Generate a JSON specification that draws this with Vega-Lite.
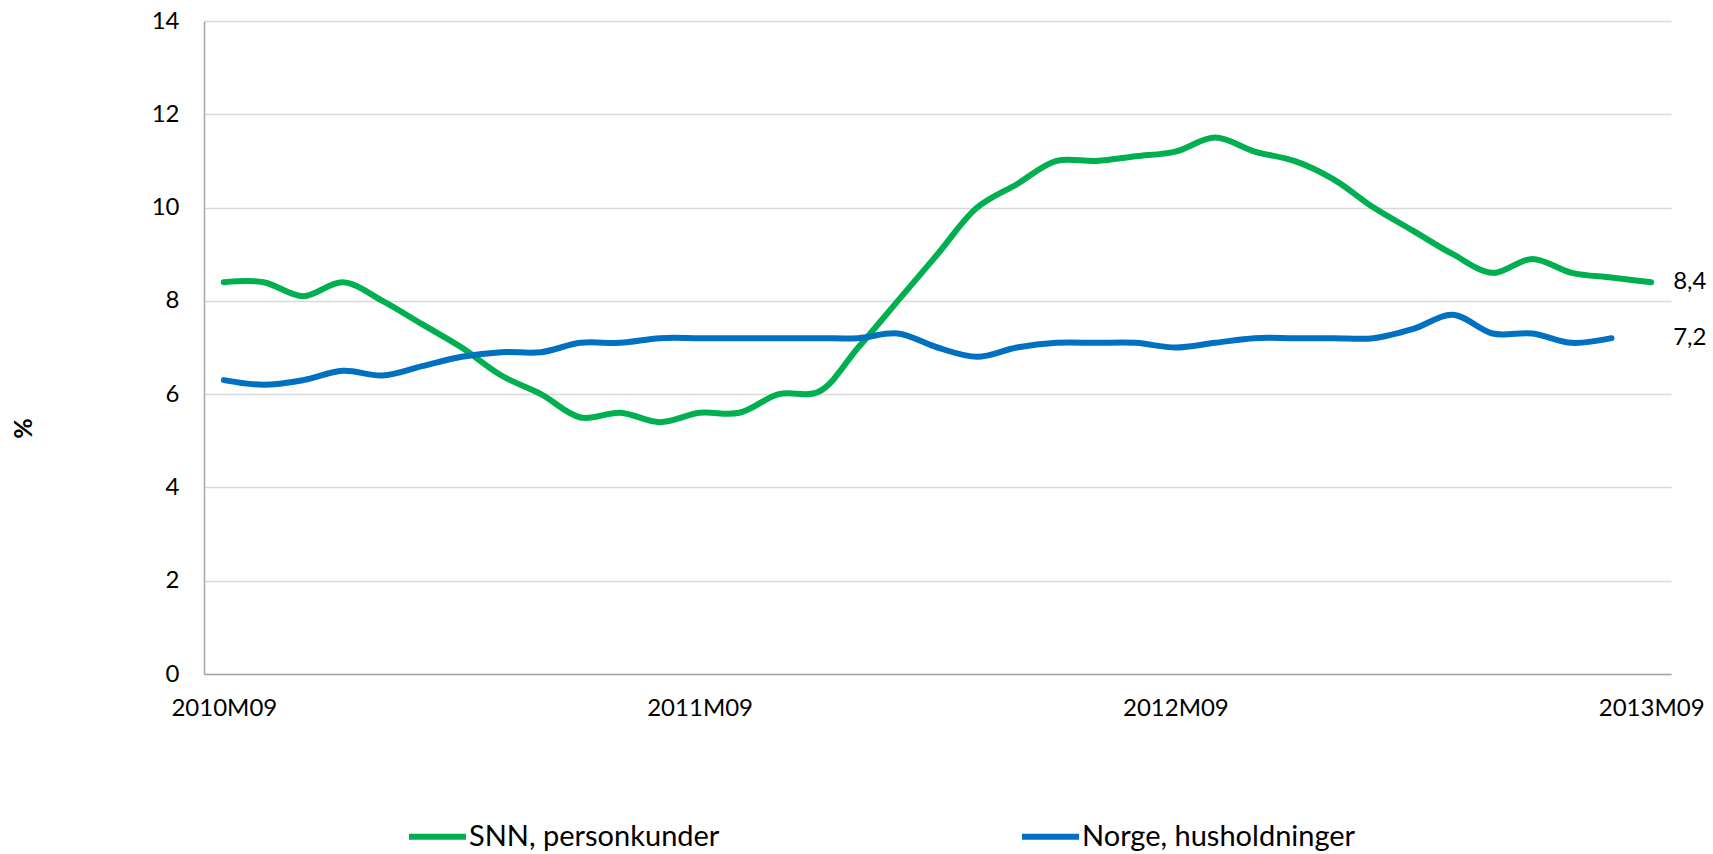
{
  "$schema": "https://vega.github.io/schema/vega-lite/v6.json",
  "autosize": "none",
  "width": 1467,
  "height": 653,
  "padding": {"left": 204, "top": 21, "right": 42, "bottom": 180},
  "background": "white",
  "config": {
    "font": "Lato",
    "view": {"stroke": null},
    "axis": {"labelFont": "Lato", "labelFontSize": 24, "labelColor": "#000000", "titleFont": "Lato"},
    "legend": {"labelFont": "Lato", "labelFontSize": 29, "labelColor": "#000000"}
  },
  "datasets": {
    "rows": [
      {"month": "2010M09", "series": "SNN, personkunder", "value": 8.4},
      {"month": "2010M10", "series": "SNN, personkunder", "value": 8.4},
      {"month": "2010M11", "series": "SNN, personkunder", "value": 8.1},
      {"month": "2010M12", "series": "SNN, personkunder", "value": 8.4},
      {"month": "2011M01", "series": "SNN, personkunder", "value": 8.0},
      {"month": "2011M02", "series": "SNN, personkunder", "value": 7.5},
      {"month": "2011M03", "series": "SNN, personkunder", "value": 7.0},
      {"month": "2011M04", "series": "SNN, personkunder", "value": 6.4},
      {"month": "2011M05", "series": "SNN, personkunder", "value": 6.0},
      {"month": "2011M06", "series": "SNN, personkunder", "value": 5.5},
      {"month": "2011M07", "series": "SNN, personkunder", "value": 5.6},
      {"month": "2011M08", "series": "SNN, personkunder", "value": 5.4},
      {"month": "2011M09", "series": "SNN, personkunder", "value": 5.6},
      {"month": "2011M10", "series": "SNN, personkunder", "value": 5.6},
      {"month": "2011M11", "series": "SNN, personkunder", "value": 6.0},
      {"month": "2011M12", "series": "SNN, personkunder", "value": 6.05},
      {"month": "2012M01", "series": "SNN, personkunder", "value": 7.0},
      {"month": "2012M02", "series": "SNN, personkunder", "value": 8.0},
      {"month": "2012M03", "series": "SNN, personkunder", "value": 9.0},
      {"month": "2012M04", "series": "SNN, personkunder", "value": 10.0},
      {"month": "2012M05", "series": "SNN, personkunder", "value": 10.5},
      {"month": "2012M06", "series": "SNN, personkunder", "value": 11.0},
      {"month": "2012M07", "series": "SNN, personkunder", "value": 11.0},
      {"month": "2012M08", "series": "SNN, personkunder", "value": 11.1},
      {"month": "2012M09", "series": "SNN, personkunder", "value": 11.2},
      {"month": "2012M10", "series": "SNN, personkunder", "value": 11.5},
      {"month": "2012M11", "series": "SNN, personkunder", "value": 11.2},
      {"month": "2012M12", "series": "SNN, personkunder", "value": 11.0},
      {"month": "2013M01", "series": "SNN, personkunder", "value": 10.6},
      {"month": "2013M02", "series": "SNN, personkunder", "value": 10.0},
      {"month": "2013M03", "series": "SNN, personkunder", "value": 9.5},
      {"month": "2013M04", "series": "SNN, personkunder", "value": 9.0},
      {"month": "2013M05", "series": "SNN, personkunder", "value": 8.6},
      {"month": "2013M06", "series": "SNN, personkunder", "value": 8.9},
      {"month": "2013M07", "series": "SNN, personkunder", "value": 8.6},
      {"month": "2013M08", "series": "SNN, personkunder", "value": 8.5},
      {"month": "2013M09", "series": "SNN, personkunder", "value": 8.4},
      {"month": "2010M09", "series": "Norge, husholdninger", "value": 6.3},
      {"month": "2010M10", "series": "Norge, husholdninger", "value": 6.2},
      {"month": "2010M11", "series": "Norge, husholdninger", "value": 6.3},
      {"month": "2010M12", "series": "Norge, husholdninger", "value": 6.5},
      {"month": "2011M01", "series": "Norge, husholdninger", "value": 6.4},
      {"month": "2011M02", "series": "Norge, husholdninger", "value": 6.6},
      {"month": "2011M03", "series": "Norge, husholdninger", "value": 6.8},
      {"month": "2011M04", "series": "Norge, husholdninger", "value": 6.9},
      {"month": "2011M05", "series": "Norge, husholdninger", "value": 6.9},
      {"month": "2011M06", "series": "Norge, husholdninger", "value": 7.1},
      {"month": "2011M07", "series": "Norge, husholdninger", "value": 7.1},
      {"month": "2011M08", "series": "Norge, husholdninger", "value": 7.2},
      {"month": "2011M09", "series": "Norge, husholdninger", "value": 7.2},
      {"month": "2011M10", "series": "Norge, husholdninger", "value": 7.2},
      {"month": "2011M11", "series": "Norge, husholdninger", "value": 7.2},
      {"month": "2011M12", "series": "Norge, husholdninger", "value": 7.2},
      {"month": "2012M01", "series": "Norge, husholdninger", "value": 7.2},
      {"month": "2012M02", "series": "Norge, husholdninger", "value": 7.3},
      {"month": "2012M03", "series": "Norge, husholdninger", "value": 7.0},
      {"month": "2012M04", "series": "Norge, husholdninger", "value": 6.8},
      {"month": "2012M05", "series": "Norge, husholdninger", "value": 7.0},
      {"month": "2012M06", "series": "Norge, husholdninger", "value": 7.1},
      {"month": "2012M07", "series": "Norge, husholdninger", "value": 7.1},
      {"month": "2012M08", "series": "Norge, husholdninger", "value": 7.1},
      {"month": "2012M09", "series": "Norge, husholdninger", "value": 7.0},
      {"month": "2012M10", "series": "Norge, husholdninger", "value": 7.1},
      {"month": "2012M11", "series": "Norge, husholdninger", "value": 7.2},
      {"month": "2012M12", "series": "Norge, husholdninger", "value": 7.2},
      {"month": "2013M01", "series": "Norge, husholdninger", "value": 7.2},
      {"month": "2013M02", "series": "Norge, husholdninger", "value": 7.2},
      {"month": "2013M03", "series": "Norge, husholdninger", "value": 7.4},
      {"month": "2013M04", "series": "Norge, husholdninger", "value": 7.7},
      {"month": "2013M05", "series": "Norge, husholdninger", "value": 7.3},
      {"month": "2013M06", "series": "Norge, husholdninger", "value": 7.3},
      {"month": "2013M07", "series": "Norge, husholdninger", "value": 7.1},
      {"month": "2013M08", "series": "Norge, husholdninger", "value": 7.2}
    ],
    "labels": [
      {"month": "2013M09", "value": 8.4, "label": "8,4"},
      {"month": "2013M09", "value": 7.2, "label": "7,2"}
    ]
  },
  "encoding": {
    "x": {
      "field": "month", "type": "ordinal", "sort": null,
      "scale": {"type": "point", "padding": 0.5},
      "axis": {
        "title": null, "values": ["2010M09", "2011M09", "2012M09", "2013M09"],
        "labelAngle": 0, "ticks": false, "grid": false, "domain": true,
        "domainColor": "#A6A6A6", "domainWidth": 1.5, "labelPadding": 22
      }
    },
    "y": {
      "field": "value", "type": "quantitative",
      "scale": {"domain": [0, 14], "nice": false, "zero": true},
      "axis": {
        "values": [0, 2, 4, 6, 8, 10, 12, 14],
        "ticks": false, "grid": true, "gridColor": "#D9D9D9", "gridWidth": 1.5,
        "domain": true, "domainColor": "#A6A6A6", "domainWidth": 1.5,
        "labelPadding": 25,
        "title": "%", "titleFontSize": 25, "titleFontWeight": "bold", "titleColor": "#000000",
        "titleAngle": -90, "titleX": -181, "titleY": 407, "titleAlign": "center", "titleBaseline": "middle"
      }
    }
  },
  "layer": [
    {
      "data": {"name": "rows"},
      "mark": {"type": "line", "interpolate": "catmull-rom", "strokeWidth": 6, "strokeCap": "round"},
      "encoding": {
        "color": {
          "field": "series", "type": "nominal",
          "scale": {"domain": ["SNN, personkunder", "Norge, husholdninger"], "range": ["#00B050", "#0070C0"]},
          "legend": {
            "title": null, "orient": "none", "direction": "horizontal", "columns": 2,
            "legendX": 202, "legendY": 784, "symbolType": "stroke", "symbolSize": 3249,
            "symbolStrokeWidth": 6, "labelOffset": 0, "columnPadding": 290, "labelLimit": 500
          }
        }
      }
    },
    {
      "data": {"name": "labels"},
      "mark": {"type": "text", "align": "left", "baseline": "middle", "dx": 22, "fontSize": 24, "font": "Lato", "color": "#000000"},
      "encoding": {"text": {"field": "label", "type": "nominal"}}
    }
  ]
}
